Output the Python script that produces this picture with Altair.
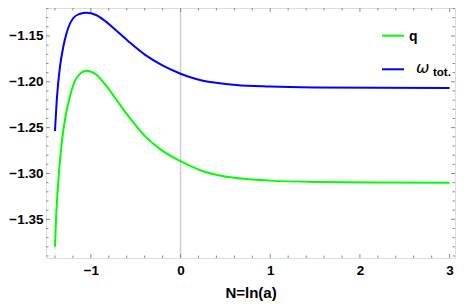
import altair as alt
import pandas as pd

# ---- data ----
N_omega = [-1.40, -1.38, -1.344, -1.307, -1.271, -1.197, -1.125, -1.051, -0.942, -0.832,
           -0.723, -0.577, -0.394, -0.212, 0.0, 0.10, 0.25, 0.435, 0.62, 1.0, 1.5, 2.2, 3.0]
omega = [-1.2537, -1.2198, -1.1835, -1.1617, -1.1471, -1.1307, -1.1260, -1.1246, -1.1271, -1.1344,
         -1.1435, -1.1562, -1.1707, -1.1816, -1.1912, -1.1948, -1.1988, -1.2015, -1.2035, -1.2052,
         -1.2062, -1.2066, -1.2067]

N_q = [-1.40, -1.387, -1.372, -1.35, -1.325, -1.289, -1.234, -1.161, -1.051, -0.942, -0.832,
       -0.723, -0.577, -0.394, -0.212, 0.0, 0.10, 0.25, 0.435, 0.62, 1.0, 1.5, 2.2, 3.0]
q = [-1.3799, -1.3472, -1.3216, -1.2927, -1.2671, -1.2417, -1.2162, -1.1962, -1.1879, -1.1920, -1.2040,
     -1.2185, -1.2380, -1.2595, -1.2745, -1.2866, -1.2915, -1.2975, -1.3022, -1.3050, -1.3078,
     -1.3093, -1.3099, -1.3100]

x_major = [-1, 0, 1, 2, 3]
x_minor = [-1.4, -1.2, -0.8, -0.6, -0.4, -0.2, 0.2, 0.4, 0.6, 0.8, 1.2, 1.4, 1.6, 1.8,
           2.2, 2.4, 2.6, 2.8]
y_major = [-1.35, -1.30, -1.25, -1.20, -1.15]
y_minor = [-1.39, -1.38, -1.37, -1.36, -1.34, -1.33, -1.32, -1.31, -1.29, -1.28, -1.27, -1.26,
           -1.24, -1.23, -1.22, -1.21, -1.19, -1.18, -1.17, -1.16, -1.14, -1.13, -1.12]

x_domain = [-1.5, 3.06]
y_domain = [-1.3922, -1.1195]

W, H = 409, 250
FRAME = "#8a8a8a"
FONT = "Liberation Sans"

df = pd.concat([
    pd.DataFrame({"N": N_q, "v": q, "s": "q"}),
    pd.DataFrame({"N": N_omega, "v": omega, "s": "w"}),
])

xs = alt.Scale(domain=x_domain, nice=False, zero=False)
ys = alt.Scale(domain=y_domain, nice=False, zero=False)

lines = alt.Chart(df).mark_line(strokeWidth=2, interpolate="monotone").encode(
    x=alt.X("N:Q", scale=xs, axis=alt.Axis(
        values=x_major, format="d", ticks=False, domain=False, grid=False,
        labelFont=FONT, labelFontWeight="bold", labelFontSize=13.5, labelColor="black",
        labelPadding=5, title="N=ln(a)", titleFont=FONT, titleFontWeight="bold",
        titleFontSize=15, titleColor="black", titlePadding=9)),
    y=alt.Y("v:Q", scale=ys, axis=alt.Axis(
        values=y_major, format=".2f", ticks=False, domain=False, grid=False,
        labelFont=FONT, labelFontWeight="bold", labelFontSize=13.5, labelColor="black",
        labelPadding=3, title=None)),
    color=alt.Color("s:N", scale=alt.Scale(domain=["q", "w"], range=["#00ff00", "#0000ff"]), legend=None),
    detail="s:N",
)

zero_line = alt.Chart(pd.DataFrame({"x": [0]})).mark_rule(color="#cfcfcf", strokeWidth=1.5).encode(
    x=alt.X("x:Q", scale=xs), y=alt.value(0), y2=alt.value(H))

def xticks(vals, length):
    d = pd.DataFrame({"x": vals})
    bottom = alt.Chart(d).mark_rule(color=FRAME, strokeWidth=1).encode(
        x=alt.X("x:Q", scale=xs), y=alt.value(H), y2=alt.value(H - length))
    top = alt.Chart(d).mark_rule(color=FRAME, strokeWidth=1).encode(
        x=alt.X("x:Q", scale=xs), y=alt.value(0), y2=alt.value(length))
    return [bottom, top]

def yticks(vals, length):
    d = pd.DataFrame({"y": vals})
    left = alt.Chart(d).mark_rule(color=FRAME, strokeWidth=1).encode(
        y=alt.Y("y:Q", scale=ys), x=alt.value(0), x2=alt.value(length))
    right = alt.Chart(d).mark_rule(color=FRAME, strokeWidth=1).encode(
        y=alt.Y("y:Q", scale=ys), x=alt.value(W), x2=alt.value(W - length))
    return [left, right]

ticks = xticks(x_major, 4) + xticks(x_minor, 2.5) + yticks(y_major, 4) + yticks(y_minor, 2.5)

# custom legend
leg = pd.DataFrame({"k": [0]})
leg_q_line = alt.Chart(leg).mark_rule(color="#00ff00", strokeWidth=2).encode(
    x=alt.value(336), x2=alt.value(358), y=alt.value(27.7))
leg_q_text = alt.Chart(leg).mark_text(font=FONT, fontWeight="bold", fontSize=14, align="left",
                                      baseline="alphabetic", color="black").encode(
    x=alt.value(363), y=alt.value(32.7), text=alt.value("q"))
leg_w_line = alt.Chart(leg).mark_rule(color="#0000ff", strokeWidth=2).encode(
    x=alt.value(336), x2=alt.value(358), y=alt.value(61.3))
leg_w_text = alt.Chart(leg).mark_text(font="DejaVu Sans", fontStyle="italic", fontSize=16, align="left",
                                      baseline="alphabetic", color="black").encode(
    x=alt.value(370), y=alt.value(64.7), text=alt.value("ω"))
leg_w_sub = alt.Chart(leg).mark_text(font=FONT, fontWeight="bold", fontSize=11.5, align="left",
                                     baseline="alphabetic", color="black").encode(
    x=alt.value(387), y=alt.value(67.5), text=alt.value("tot."))

chart = alt.layer(
    zero_line, *ticks, lines, leg_q_line, leg_q_text, leg_w_line, leg_w_text, leg_w_sub
).properties(
    width=W, height=H,
    autosize=alt.AutoSizeParams(type="none"),
    padding={"left": 38, "top": 0, "right": 1, "bottom": 50},
).configure_view(stroke=FRAME, strokeWidth=1).configure(background="white")

chart.save("out.html", embed_options={"renderer": "svg", "actions": False})
